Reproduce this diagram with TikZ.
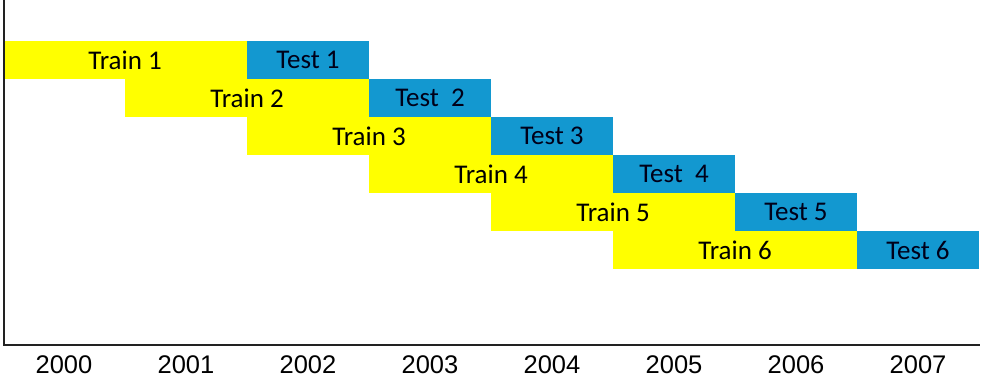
\documentclass[tikz,border=0pt]{standalone}
\usepackage{fontspec}
\setmainfont{Carlito}
\newfontfamily\yearfont{Liberation Sans}
\definecolor{trainyellow}{HTML}{FFFF00}
\definecolor{testblue}{HTML}{1398D0}
\definecolor{axisgray}{HTML}{222222}
\begin{document}
\begin{tikzpicture}[x=1pt,y=-1pt,
  cell/.style={inner sep=0pt, outer sep=0pt, minimum height=38pt, font=\fontsize{27}{29}\selectfont, text=black},
  trainbox/.style={cell, fill=trainyellow, minimum width=244pt},
  testbox/.style={cell, fill=testblue, minimum width=122pt, text=black!90!blue},
  yearlabel/.style={inner sep=0pt, font=\yearfont\fontsize{25.5}{27}\selectfont, text=black},
  axisline/.style={draw=axisgray, line width=1.3pt}]
\useasboundingbox (0,0) rectangle (982,389);
% rows
\foreach \i/\tr/\te in {1/Train 1/Test 1, 2/Train 2/Test\ \ 2, 3/Train 3/Test 3, 4/Train 4/Test\ \ 4, 5/Train 5/Test 5, 6/Train 6/Test 6}{
  \pgfmathsetmacro{\s}{3+122*(\i-1)}
  \pgfmathsetmacro{\yc}{41+38*(\i-1)+19}
  \node[trainbox] (train\i) at (\s+122,\yc) {\tr};
  \node[testbox] (test\i) at (\s+305,\yc) {\te};
}
% axes
\coordinate (top) at (4,0);
\coordinate (origin) at (4,345);
\coordinate (right) at (980,345);
\draw[axisline] (top) -- (origin) -- (right);
% years
\foreach \y [count=\k from 0] in {2000,2001,2002,2003,2004,2005,2006,2007}{
  \node[yearlabel] (year\y) at (64+122*\k,365) {\y};
}
\end{tikzpicture}
\end{document}
